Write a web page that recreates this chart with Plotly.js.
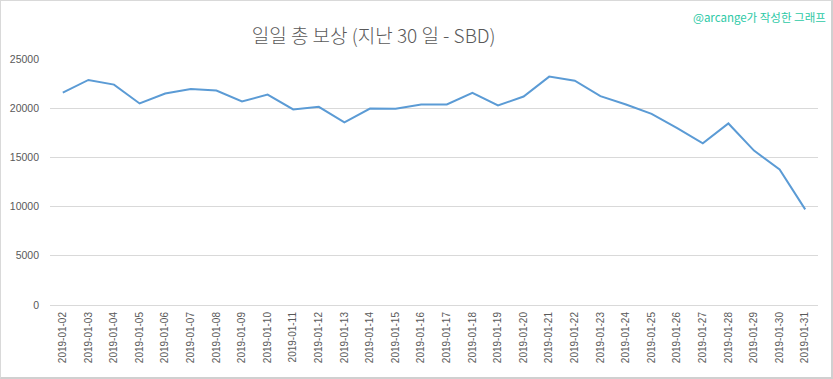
<!DOCTYPE html>
<html>
<head>
<meta charset="utf-8">
<script src="https://cdn.plot.ly/plotly-3.0.1.min.js"></script>
<style>
html,body{margin:0;padding:0;background:#fff;}
#wrap{width:833px;height:379px;box-sizing:border-box;border:1px solid #d9d9d9;border-right:2px solid #d0d0d0;border-bottom:2px solid #d0d0d0;overflow:hidden;}
#chart{width:830px;height:376px;}
</style>
</head>
<body>
<div id="wrap"><div id="chart"></div></div>
<script>
const dates = ["2019-01-02","2019-01-03","2019-01-04","2019-01-05","2019-01-06","2019-01-07","2019-01-08","2019-01-09","2019-01-10","2019-01-11","2019-01-12","2019-01-13","2019-01-14","2019-01-15","2019-01-16","2019-01-17","2019-01-18","2019-01-19","2019-01-20","2019-01-21","2019-01-22","2019-01-23","2019-01-24","2019-01-25","2019-01-26","2019-01-27","2019-01-28","2019-01-29","2019-01-30","2019-01-31"];
const rewardsSBD = [21590,22870,22400,20480,21490,21960,21800,20680,21390,19870,20140,18560,19970,19940,20380,20380,21560,20280,21190,23210,22800,21220,20380,19430,17980,16430,18450,15690,13770,9720];
const yTicks = [0,5000,10000,15000,20000,25000];
const titleText = "일일 총 보상 (지난 30 일 - SBD)";
const creditText = "@arcange가 작성한 그래프";

const trace = {
  x: dates, y: rewardsSBD, type: "scatter", mode: "lines",
  line: {color: "#5b9bd5", width: 2}, hoverinfo: "x+y"
};
const layout = {
  width: 830, height: 376,
  margin: {l: 49, r: 13, t: 58, b: 72},
  paper_bgcolor: "#ffffff", plot_bgcolor: "#ffffff",
  showlegend: false,
  title: {text: titleText, x: 0.449, xanchor: "center", y: 0.905, yanchor: "middle",
          font: {family: "Noto Sans CJK KR, Noto Sans, sans-serif", size: 19, color: "#595959", weight: 300}},
  xaxis: {type: "category", range: [-0.5, 29.5], tickangle: -90, showgrid: false, zeroline: false,
          showline: false, ticks: "", ticklabelstandoff: 4,
          tickfont: {family: "Liberation Sans, Arial, sans-serif", size: 10, color: "#595959"}},
  yaxis: {range: [0, 25000], tickvals: yTicks, ticktext: yTicks.map(String), showgrid: true,
          gridcolor: "#d9d9d9", gridwidth: 1, zeroline: true, zerolinecolor: "#d9d9d9", zerolinewidth: 1,
          showline: false, ticks: "", ticklabelstandoff: 10,
          tickfont: {family: "Liberation Sans, Arial, sans-serif", size: 10.5, color: "#595959"}},
  annotations: [{text: creditText, xref: "paper", yref: "paper", x: 1.013, y: 1.17, xanchor: "right", yanchor: "middle",
                 showarrow: false, font: {family: "Noto Sans CJK KR, sans-serif", size: 11.5, color: "#2cc9a6"}}]
};
Plotly.newPlot("chart", [trace], layout, {displayModeBar: false, staticPlot: true});
</script>
</body>
</html>
